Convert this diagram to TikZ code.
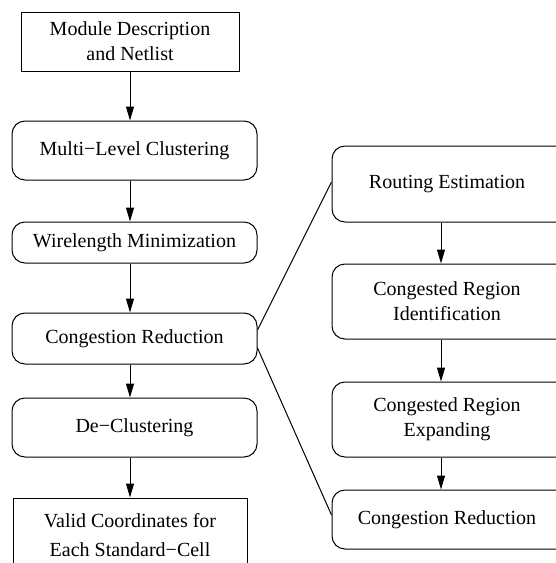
\documentclass[tikz,border=0pt]{standalone}
\usepackage{fontspec}
\setmainfont{Liberation Serif}
\usetikzlibrary{arrows.meta}
\begin{document}
\begin{tikzpicture}[x=1pt,y=-1pt,
  every node/.style={font=\fontsize{20}{25}\selectfont, inner sep=0pt, align=center},
  every label/.style={font=\fontsize{20}{25}\selectfont, inner sep=0pt, align=center},
  sharpbox/.style={draw, line width=1pt, rectangle},
  roundbox/.style={draw, line width=1pt, rectangle, rounded corners=13pt},
  sidebox/.style={roundbox, minimum width=268pt},
  sidetext/.style={label={[xshift=-19pt]center:#1}},
  flow/.style={line width=1pt, -{Triangle[length=14pt,width=8pt]}},
  link/.style={line width=1pt}]
\useasboundingbox (0,0) rectangle (556,563);
\clip (0,0) rectangle (556,563);

% main flow (left column)
\node[sharpbox, minimum width=218pt, minimum height=59pt] (desc) at (130,41.5)
  {Module Description\\and Netlist};
\node[roundbox, minimum width=245pt, minimum height=59pt] (mlc) at (134.5,150.5)
  {Multi−Level Clustering};
\node[roundbox, minimum width=245pt, minimum height=41pt] (wl) at (134.5,242.5)
  {Wirelength Minimization};
\node[roundbox, minimum width=245pt, minimum height=51pt] (cr) at (134.5,338.5)
  {Congestion Reduction};
\node[roundbox, minimum width=245pt, minimum height=59pt] (dc) at (134.5,427.5)
  {De−Clustering};
\node[sharpbox, minimum width=234pt, minimum height=75pt,
      font=\fontsize{20}{29}\selectfont] (vc) at (130,535.5)
  {Valid Coordinates for\\Each Standard−Cell};

% congestion reduction detail (right column, running past the right edge)
\node[sidebox, minimum height=76pt, sidetext={Routing Estimation}] (re) at (466,184) {};
\node[sidebox, minimum height=75pt, sidetext={Congested Region\\Identification}] (ident) at (466,301.5) {};
\node[sidebox, minimum height=75pt, sidetext={Congested Region\\Expanding}] (exp) at (466,419.5) {};
\node[sidebox, minimum height=59pt, sidetext={Congestion Reduction}] (cr2) at (466,519.5) {};

% arrows of the main flow
\draw[flow] (desc.south) -- (desc.south |- mlc.north);
\draw[flow] (desc.south |- mlc.south) -- (desc.south |- wl.north);
\draw[flow] (desc.south |- wl.south) -- (desc.south |- cr.north);
\draw[flow] (desc.south |- cr.south) -- (desc.south |- dc.north);
\draw[flow] (desc.south |- dc.south) -- (vc.north);

% arrows of the detail flow
\draw[flow] ([xshift=-25pt]re.south) -- ([xshift=-25pt]ident.north);
\draw[flow] ([xshift=-25pt]ident.south) -- ([xshift=-25pt]exp.north);
\draw[flow] ([xshift=-25pt]exp.south) -- ([xshift=-25pt]cr2.north);

% expansion lines
\draw[link] ([yshift=8.5pt]cr.east) -- ([yshift=2pt]re.west);
\draw[link] ([yshift=-9.5pt]cr.east) -- ([yshift=4.5pt]cr2.west);
\end{tikzpicture}
\end{document}
